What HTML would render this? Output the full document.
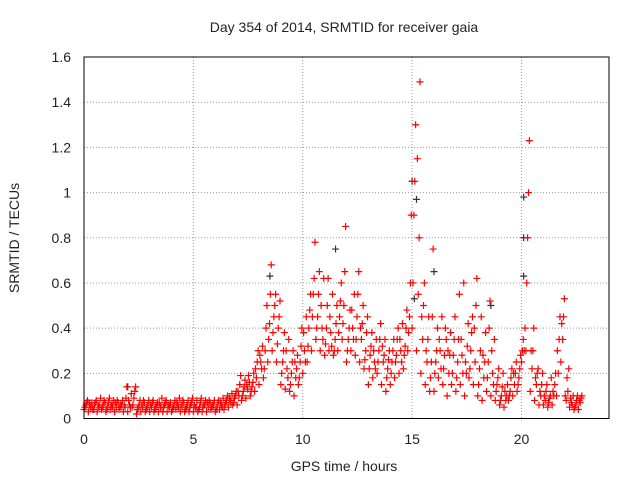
<!DOCTYPE html>
<html><head><meta charset="utf-8"><style>
body{margin:0;background:#fff}
svg{display:block;font-family:"Liberation Sans",sans-serif;font-size:14px;fill:#222}
</style></head><body>
<svg id="chart" width="640" height="480">
<text x="344" y="32" text-anchor="middle">Day 354 of 2014, SRMTID for receiver gaia</text>
<text x="344" y="471" text-anchor="middle">GPS time / hours</text>
<text transform="translate(19,238) rotate(-90)" text-anchor="middle">SRMTID / TECUs</text>
<g id="grid"></g><g id="ticks"></g><g id="marks"></g>
<rect x="84" y="57" width="525" height="361.5" fill="none" stroke="#000" stroke-width="1"/>
</svg>
<script>
const xTicks=[0,5,10,15,20];
const yTicks=[0,0.2,0.4,0.6,0.8,1,1.2,1.4,1.6];
const yTickLabels=["0","0.2","0.4","0.6","0.8","1","1.2","1.4","1.6"];
const hourStart=0, hourStep=0.2;
const srmtidLow=[.04,.03,.04,.03,.04,.03,.04,.03,.04,.03,.03,.05,.02,.03,.03,.03,.03,.03,.03,.03,.03,.04,.03,.03,.03,.03,.03,.03,.03,.04,.03,.04,.04,.05,.06,.06,.08,.09,.10,.12,.15,.18,.25,.30,.25,.15,.13,.12,.10,.15,.20,.25,.30,.35,.30,.28,.30,.28,.30,.35,.25,.30,.28,.25,.22,.15,.18,.20,.15,.12,.15,.18,.20,.22,.30,.40,.30,.20,.15,.12,.12,.18,.15,.10,.15,.12,.15,.10,.18,.15,.10,.08,.12,.10,.08,.06,.05,.08,.10,.12,.25,.30,.12,.08,.06,.06,.05,.06,.10,.25,.10,.05,.04,.04];
const srmtidLowMid=[.05,.07,.04,.06,.05,.04,.06,.07,.05,.06,.08,.06,.04,.06,.04,.06,.04,.07,.05,.06,.04,.07,.06,.04,.05,.06,.04,.05,.07,.05,.04,.07,.06,.09,.07,.12,.10,.15,.12,.22,.28,.22,.35,.38,.33,.20,.30,.15,.25,.18,.38,.32,.45,.40,.50,.33,.45,.30,.38,.42,.30,.48,.35,.40,.26,.22,.30,.25,.32,.18,.20,.25,.35,.28,.38,.60,1.15,.45,.30,.18,.20,.35,.22,.30,.20,.18,.35,.25,.22,.40,.15,.28,.18,.30,.12,.08,.12,.10,.20,.15,.30,.60,.30,.18,.12,.10,.07,.12,.30,.42,.08,.09,.05,.08];
const srmtidMid=[.06,.05,.06,.05,.06,.05,.06,.05,.06,.05,.06,.09,.05,.05,.05,.05,.05,.05,.06,.05,.05,.06,.05,.05,.06,.05,.05,.06,.05,.06,.05,.06,.07,.08,.09,.10,.12,.13,.14,.18,.25,.30,.42,.45,.40,.25,.22,.20,.18,.25,.30,.40,.55,.45,.40,.40,.38,.35,.45,.50,.35,.40,.45,.35,.30,.28,.25,.30,.25,.22,.25,.28,.30,.32,.45,.90,.55,.35,.25,.25,.25,.30,.28,.20,.28,.25,.28,.20,.30,.25,.22,.18,.25,.20,.15,.10,.08,.12,.15,.18,.35,.80,.22,.15,.10,.08,.09,.10,.20,.35,.18,.07,.06,.07];
const srmtidMidHigh=[.07,.05,.07,.06,.08,.07,.05,.08,.06,.09,.05,.12,.06,.08,.06,.07,.06,.05,.07,.06,.06,.05,.08,.06,.07,.05,.07,.06,.08,.06,.07,.05,.08,.07,.10,.15,.14,.19,.16,.25,.22,.40,.55,.50,.45,.30,.18,.25,.22,.32,.25,.48,.62,.55,.35,.50,.32,.42,.52,.65,.40,.35,.55,.42,.38,.32,.22,.35,.28,.26,.30,.35,.25,.40,.60,1.05,.80,.50,.35,.45,.30,.22,.40,.28,.35,.35,.20,.32,.38,.50,.30,.25,.40,.15,.18,.14,.10,.18,.20,.22,.30,1.0,.30,.20,.15,.12,.10,.15,.35,.45,.12,.06,.08,.09];
const srmtidHigh=[.08,.07,.08,.09,.07,.09,.08,.07,.08,.14,.11,.14,.08,.07,.08,.08,.07,.09,.08,.07,.08,.09,.07,.08,.09,.08,.09,.08,.07,.08,.08,.09,.10,.11,.12,.19,.17,.16,.20,.30,.32,.50,.68,.55,.52,.38,.35,.30,.28,.40,.45,.55,.78,.65,.62,.62,.55,.50,.60,.85,.48,.55,.65,.50,.45,.38,.35,.42,.35,.30,.35,.40,.42,.48,.90,1.30,1.49,.60,.45,.75,.40,.45,.35,.38,.45,.55,.60,.42,.45,.62,.45,.38,.52,.35,.22,.20,.15,.22,.25,.28,.40,1.23,.40,.22,.20,.15,.18,.20,.45,.53,.22,.10,.10,.10];
const blackHours=[2,8.5,11.5,15,15.2,15.1,16,18.6,20.1,20.1,20.1];
const blackVals=[.14,.63,.75,1.05,.97,.53,.65,.5,.98,.8,.63];
const X=h=>84+h*525/24, Y=v=>418.5-v*361.5/1.6;
const NS="http://www.w3.org/2000/svg";
const grid=document.getElementById('grid'),ticks=document.getElementById('ticks'),marks=document.getElementById('marks');
function mk(tag,a,p){const e=document.createElementNS(NS,tag);for(const k in a)e.setAttribute(k,a[k]);p.appendChild(e);return e;}
xTicks.forEach(t=>{
 if(t>0){const g=mk('line',{x1:X(t),x2:X(t),y1:57,y2:418.5,stroke:'#999','stroke-dasharray':'1,2'},grid);
 
 }
 const l=mk('text',{x:X(t),y:444,'text-anchor':'middle'},ticks);l.textContent=t;
 
 
});
yTicks.forEach((t,i)=>{
 if(t>0&&t<1.6){const g=mk('line',{x1:84,x2:609,y1:Y(t),y2:Y(t),stroke:'#999','stroke-dasharray':'1,2'},grid);
 
 }
 const l=mk('text',{x:71,y:Y(t)+5,'text-anchor':'end'},ticks);l.textContent=yTickLabels[i];
 
 
});
function plus(h,v,c){const x=X(h),y=Y(v);
 const p=mk('path',{d:`M${x-3.5},${y}H${x+3.5}M${x},${y-3.5}V${y+3.5}`,stroke:c,'stroke-width':1.2,fill:'none'},marks);
 
 }
blackHours.forEach((h,i)=>plus(h,blackVals[i],'#333'));
[srmtidLow,srmtidLowMid,srmtidMid,srmtidMidHigh,srmtidHigh].forEach((arr,k)=>{
 arr.forEach((v,i)=>{plus(hourStart+i*hourStep+k*0.04,v,'#f00');});
});
</script>
</body></html>
